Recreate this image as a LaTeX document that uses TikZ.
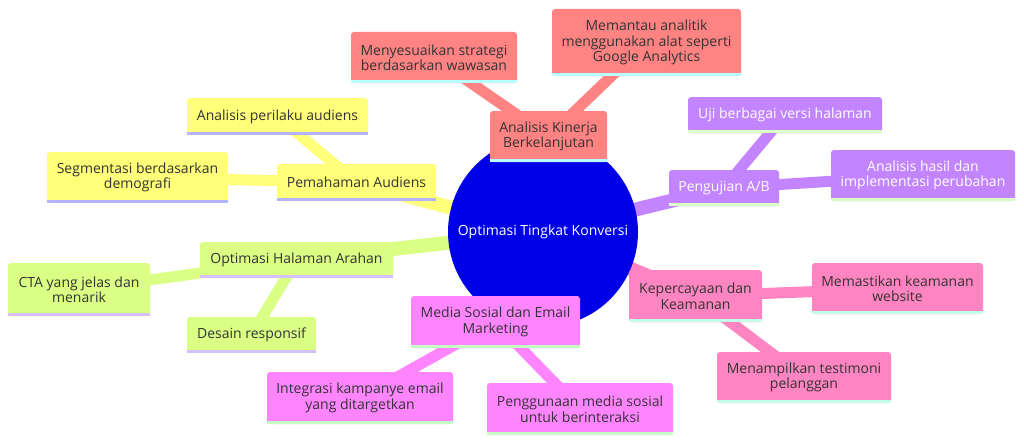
\documentclass[tikz,border=0pt]{standalone}
\usepackage{fontspec}
\setmainfont{Open Sans}
\pgfdeclarelayer{edges}
\pgfdeclarelayer{bg}
\pgfsetlayers{bg,edges,main}
\definecolor{rootc}{HTML}{0000E6}
\definecolor{cRed}{HTML}{FF8383}
\definecolor{lRed}{HTML}{B8FFFF}
\definecolor{cYel}{HTML}{FFFF7A}
\definecolor{lYel}{HTML}{B3B3FF}
\definecolor{cGrn}{HTML}{DAFF84}
\definecolor{lGrn}{HTML}{D6BFFF}
\definecolor{cPur}{HTML}{C285FF}
\definecolor{lPur}{HTML}{D8FFC4}
\definecolor{cPnk}{HTML}{FF85C2}
\definecolor{lPnk}{HTML}{C2FFE6}
\definecolor{cMag}{HTML}{FF85FF}
\definecolor{lMag}{HTML}{C6FFC6}
\definecolor{txt}{HTML}{333333}
\tikzset{
  box/.style={rounded corners=3pt, inner sep=0pt, align=center,
    font=\fontsize{14}{15.5}\selectfont, text=txt},
  rootedge/.style={line width=14pt},
  leafedge/.style={line width=11pt},
  stripe/.style={line width=3pt},
}
\begin{document}
\begin{tikzpicture}[x=1pt,y=-1pt]
\begin{pgfonlayer}{bg}
\useasboundingbox[fill=white] (0,0) rectangle (1024,444);
\end{pgfonlayer}
% root
\node[circle, fill=rootc, minimum size=190pt, inner sep=0pt, text=white,
  font=\fontsize{14}{15.5}\selectfont] (root) at (543,232) {Optimasi Tingkat Konversi};
% red section
\node[box, fill=cRed, minimum width=117pt, minimum height=51pt] (ak) at (548.5,136.5) {Analisis Kinerja\\Berkelanjutan};
\node[box, fill=cRed, minimum width=166pt, minimum height=51pt] (ms) at (434,57.5) {Menyesuaikan strategi\\berdasarkan wawasan};
\node[box, fill=cRed, minimum width=189pt, minimum height=67pt] (ma) at (646.5,42.5) {Memantau analitik\\menggunakan alat seperti\\Google Analytics};
% yellow section
\node[box, fill=cYel, minimum width=159pt, minimum height=37pt] (pa) at (356.5,182.5) {Pemahaman Audiens};
\node[box, fill=cYel, minimum width=181pt, minimum height=37pt] (ap) at (277.5,116.5) {Analisis perilaku audiens};
\node[box, fill=cYel, minimum width=181pt, minimum height=51pt] (sg) at (137.5,177.5) {Segmentasi berdasarkan\\demografi};
% green section
\node[box, fill=cGrn, minimum width=193pt, minimum height=36pt] (oh) at (296.5,260) {Optimasi Halaman Arahan};
\node[box, fill=cGrn, minimum width=142pt, minimum height=53pt] (cta) at (79,289.5) {CTA yang jelas dan\\menarik};
\node[box, fill=cGrn, minimum width=129pt, minimum height=36pt] (dr) at (251.5,335) {Desain responsif};
% purple section
\node[box, fill=cPur, text=white, minimum width=110pt, minimum height=36pt] (pg) at (724,188) {Pengujian A/B};
\node[box, fill=cPur, text=white, minimum width=194pt, minimum height=36pt] (uj) at (785,115) {Uji berbagai versi halaman};
\node[box, fill=cPur, text=white, minimum width=184pt, minimum height=51pt] (ah) at (923,175.5) {Analisis hasil dan\\implementasi perubahan};
% pink section
\node[box, fill=cPnk, minimum width=133pt, minimum height=52pt] (kk) at (695.5,296) {Kepercayaan dan\\Keamanan};
\node[box, fill=cPnk, minimum width=171pt, minimum height=51pt] (mk) at (897.5,288.5) {Memastikan keamanan\\website};
\node[box, fill=cPnk, minimum width=174pt, minimum height=51pt] (mt) at (804,377.5) {Menampilkan testimoni\\pelanggan};
% magenta section
\node[box, fill=cMag, minimum width=169pt, minimum height=52pt] (md) at (495.5,322) {Media Sosial dan Email\\Marketing};
\node[box, fill=cMag, minimum width=186pt, minimum height=52pt] (ik) at (360,398) {Integrasi kampanye email\\yang ditargetkan};
\node[box, fill=cMag, minimum width=186pt, minimum height=52pt] (pm) at (580,409) {Penggunaan media sosial\\untuk berinteraksi};
% stripes
\foreach \n/\c in {ak/lRed,ms/lRed,ma/lRed,pa/lYel,ap/lYel,sg/lYel,oh/lGrn,cta/lGrn,dr/lGrn,pg/lPur,uj/lPur,ah/lPur,kk/lPnk,mk/lPnk,mt/lPnk,md/lMag,ik/lMag,pm/lMag}
  \draw[stripe, draw=\c] ([yshift=1.5pt]\n.south west) -- ([yshift=1.5pt]\n.south east);
% edges
\begin{pgfonlayer}{edges}
\draw[rootedge, draw=cRed] (root.center) -- (ak.center);
\draw[rootedge, draw=cYel] (root.center) -- (pa.center);
\draw[rootedge, draw=cGrn] (root.center) -- (oh.center);
\draw[rootedge, draw=cPur] (root.center) -- (pg.center);
\draw[rootedge, draw=cPnk] (root.center) -- (kk.center);
\draw[rootedge, draw=cMag] (root.center) -- (md.center);
\draw[leafedge, draw=cRed] (ak.center) -- (ms.center);
\draw[leafedge, draw=cRed] (ak.center) -- (ma.center);
\draw[leafedge, draw=cYel] (pa.center) -- (ap.center);
\draw[leafedge, draw=cYel] (pa.center) -- (sg.center);
\draw[leafedge, draw=cGrn] (oh.center) -- (cta.center);
\draw[leafedge, draw=cGrn] (oh.center) -- (dr.center);
\draw[leafedge, draw=cPur] (pg.center) -- (uj.center);
\draw[leafedge, draw=cPur] (pg.center) -- (ah.center);
\draw[leafedge, draw=cPnk] (kk.center) -- (mk.center);
\draw[leafedge, draw=cPnk] (kk.center) -- (mt.center);
\draw[leafedge, draw=cMag] (md.center) -- (ik.center);
\draw[leafedge, draw=cMag] (md.center) -- (pm.center);
\end{pgfonlayer}
\end{tikzpicture}
\end{document}
